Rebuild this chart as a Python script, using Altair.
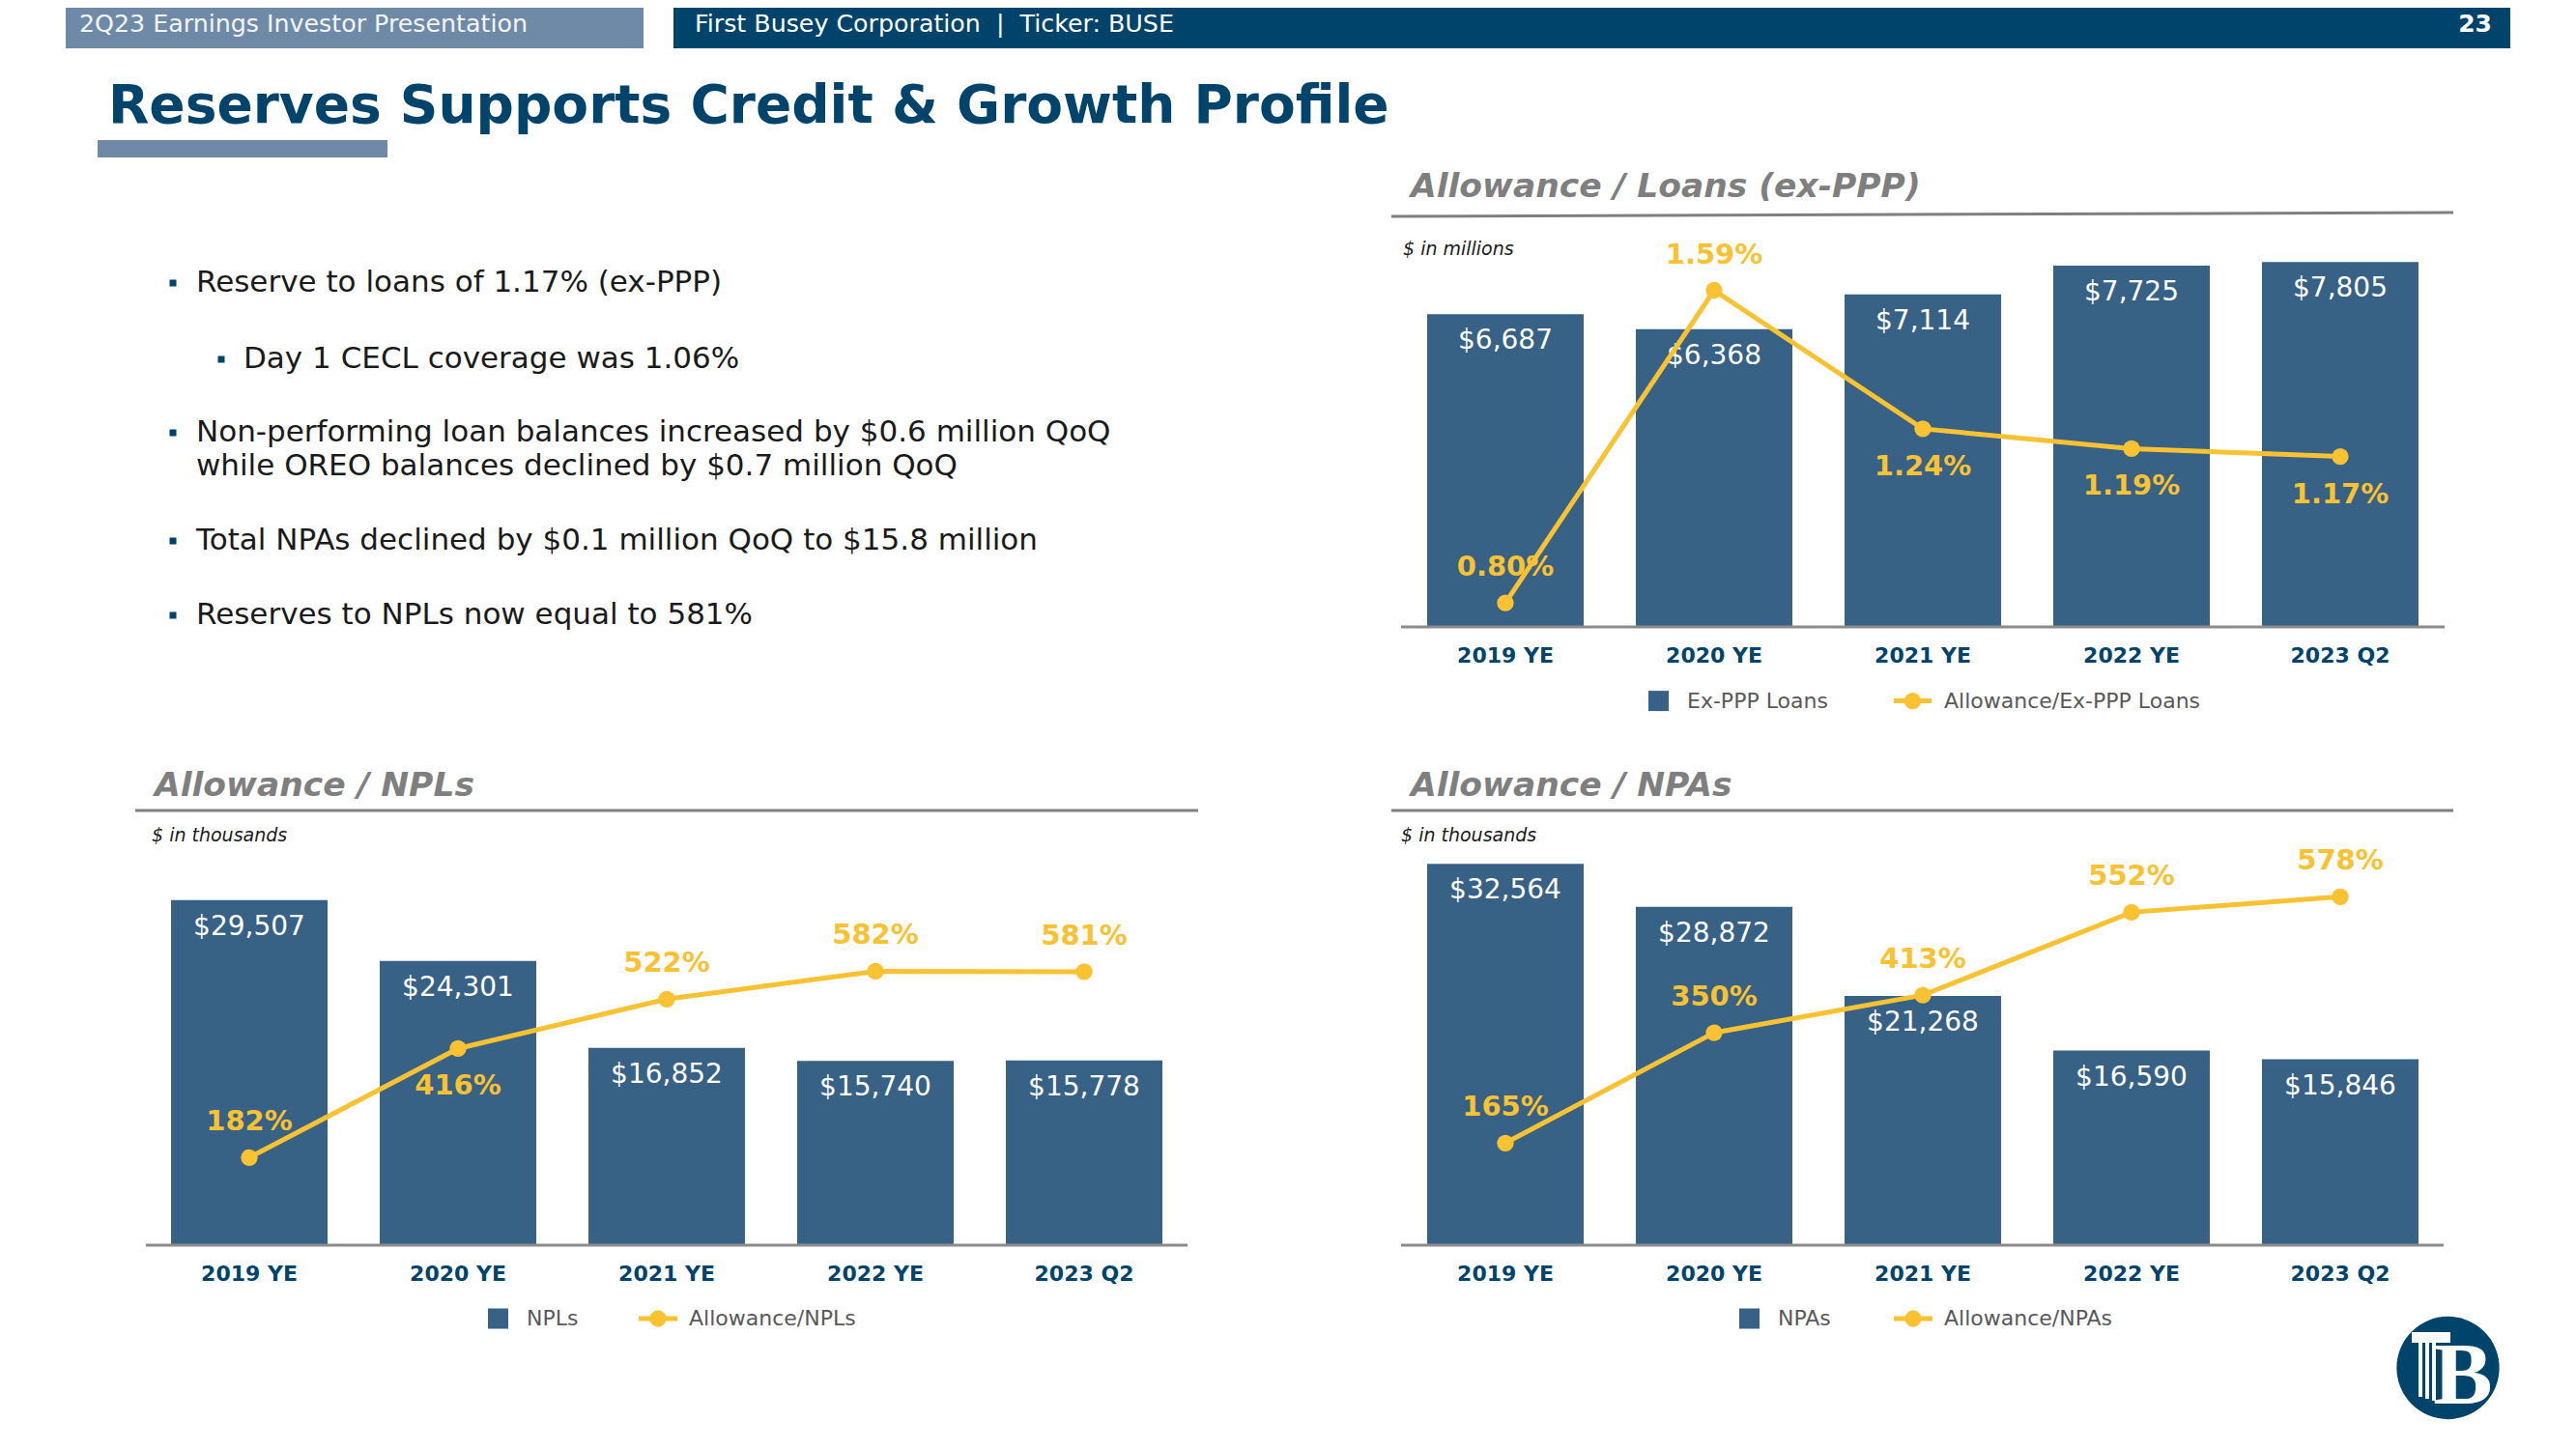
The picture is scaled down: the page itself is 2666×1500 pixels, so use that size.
import altair as alt
import pandas as pd

# ---------------- data ----------------
categories = ["2019 YE", "2020 YE", "2021 YE", "2022 YE", "2023 Q2"]
exppp_loans = [6687, 6368, 7114, 7725, 7805]          # $ in millions
allow_loans_pct = [0.80, 1.59, 1.24, 1.19, 1.17]      # %
npls = [29507, 24301, 16852, 15740, 15778]            # $ in thousands
allow_npls_pct = [182, 416, 522, 582, 581]            # %
npas = [32564, 28872, 21268, 16590, 15846]            # $ in thousands
allow_npas_pct = [165, 350, 413, 552, 578]            # %

NBSP = "\u00a0"
header_left = "2Q23 Earnings Investor Presentation"
header_right = "First Busey Corporation" + NBSP * 2 + "|" + NBSP * 2 + "Ticker: BUSE"
page_number = "23"
slide_title = "Reserves Supports Credit & Growth Profile"
bullet_lines = [
    "Reserve to loans of 1.17% (ex-PPP)",
    "Day 1 CECL coverage was 1.06%",
    "Non-performing loan balances increased by $0.6 million QoQ",
    "while OREO balances declined by $0.7 million QoQ",
    "Total NPAs declined by $0.1 million QoQ to $15.8 million",
    "Reserves to NPLs now equal to 581%",
]

# ---------------- style / layout ----------------
FONT = "DejaVu Sans"
NAVY = "#00436b"
SLATE = "#6f8aa7"
BAR = "#376185"
GOLD = "#f8c232"
GRAY_T = "#7f7f7f"
AXIS = "#8c8c8c"
TEXT = "#1a1a1a"
LEG = "#595959"
OFF = 8  # page margin


def P(v):
    return v - OFF


one = pd.DataFrame({"k": [0]})


def text_at(txt, x, y, size, color, weight="normal", style="normal",
            align="left", baseline="middle", font=FONT):
    return alt.Chart(one).mark_text(
        text=txt, fontSize=size, color=color, fontWeight=weight,
        fontStyle=style, align=align, baseline=baseline, font=font
    ).encode(x=alt.value(P(x)), y=alt.value(P(y)))


def rect_at(x0, x1, y0, y1, color):
    return alt.Chart(one).mark_rect(color=color).encode(
        x=alt.value(P(x0)), x2=alt.value(P(x1)),
        y=alt.value(P(y0)), y2=alt.value(P(y1)))


def rule_at(x0, y0, x1, y1, color, width):
    return alt.Chart(one).mark_rule(color=color, strokeWidth=width).encode(
        x=alt.value(P(x0)), y=alt.value(P(y0)),
        x2=alt.value(P(x1)), y2=alt.value(P(y1)))


def dot_at(x, y, size, color):
    return alt.Chart(one).mark_circle(color=color, size=size, opacity=1).encode(
        x=alt.value(P(x)), y=alt.value(P(y)))


def panel(values, pct, pct_fmt, below, xr, base, bar_k, bar_max,
          anchor, label_y):
    df = pd.DataFrame({"cat": categories, "val": values, "pct": pct})
    df["val_lbl"] = ["$" + f"{v:,}" for v in values]
    df["pct_lbl"] = [pct_fmt(p) for p in pct]
    band = alt.Scale(domain=categories, range=[P(xr[0]), P(xr[1])],
                     paddingInner=0.25, paddingOuter=0.125)
    pnt = alt.Scale(type="point", domain=categories,
                    range=[P(xr[0]), P(xr[1])], padding=0.5)
    ybar = alt.Scale(domain=[0, bar_max],
                     range=[P(base), P(base - bar_max * bar_k)], nice=False)
    (v1, y1), (v2, y2) = anchor
    yline = alt.Scale(domain=[v1, v2], range=[P(y1), P(y2)],
                      nice=False, zero=False)
    c = alt.Chart(df)
    xb = alt.X("cat:N", scale=band, axis=None)
    xp = alt.X("cat:N", scale=pnt, axis=None)
    yb = alt.Y("val:Q", scale=ybar, axis=None)
    yl = alt.Y("pct:Q", scale=yline, axis=None)
    bars = c.mark_bar(color=BAR).encode(x=xb, y=yb, y2=alt.datum(0))
    bar_lbl = c.mark_text(color="white", fontSize=28, font=FONT,
                          baseline="middle", dy=28).encode(
        x=xp, y=alt.Y("val:Q", scale=ybar, axis=None), text="val_lbl:N")
    xlbl = c.mark_text(color=NAVY, fontSize=22, fontWeight="bold", font=FONT,
                       baseline="middle").encode(
        x=xp, y=alt.value(P(label_y)), text="cat:N")
    line = c.mark_line(color=GOLD, strokeWidth=5).encode(x=xp, y=yl)
    pts = c.mark_circle(color=GOLD, size=300, opacity=1).encode(x=xp, y=yl)
    above_cats = [k for k in categories if k not in below]
    layers = [bars, bar_lbl, xlbl, line, pts]
    if above_cats:
        layers.append(c.transform_filter(
            alt.FieldOneOfPredicate(field="cat", oneOf=above_cats)
        ).mark_text(color=GOLD, fontSize=29, fontWeight="bold", font=FONT,
                    baseline="middle", dy=-37).encode(
            x=xp, y=yl, text="pct_lbl:N"))
    if below:
        layers.append(c.transform_filter(
            alt.FieldOneOfPredicate(field="cat", oneOf=list(below))
        ).mark_text(color=GOLD, fontSize=29, fontWeight="bold", font=FONT,
                    baseline="middle", dy=39).encode(
            x=xp, y=yl, text="pct_lbl:N"))
    return layers


def legend(y, sq_x, txt_x, label1, ln_x0, ln_x1, label2, txt2_x):
    return [
        rect_at(sq_x, sq_x + 21, y - 10.5, y + 10.5, BAR),
        text_at(label1, txt_x, y, 22, LEG),
        rule_at(ln_x0, y, ln_x1, y, GOLD, 5),
        dot_at((ln_x0 + ln_x1) / 2, y, 300, GOLD),
        text_at(label2, txt2_x, y, 22, LEG),
    ]


layers = []

# header
layers += [
    rect_at(68, 666, 0, 50, SLATE),
    rect_at(697, 2598, 0, 50, NAVY),
    text_at(header_left, 82, 25, 25.3, "#f2f5f8"),
    text_at(header_right, 719, 25, 25.3, "white"),
    text_at(page_number, 2579, 25, 25, "white", weight="bold", align="right"),
    text_at(slide_title, 112, 127, 55, NAVY, weight="bold",
            baseline="alphabetic"),
    rect_at(101, 401, 145, 163, "#7089a8"),
]

# bullets
bullet_pos = [(179, 203, 293), (229, 252, 372), (179, 203, 448),
              (None, 203, 483), (179, 203, 560), (179, 203, 637)]
for txt, (bx, tx, ty) in zip(bullet_lines, bullet_pos):
    if bx is not None:
        layers.append(rect_at(bx - 3.5, bx + 3.5, ty - 3.5, ty + 3.5, NAVY))
    layers.append(text_at(txt, tx, ty, 31, TEXT))

# --- top-right: Allowance / Loans (ex-PPP)
layers += [
    text_at("Allowance / Loans (ex-PPP)", 1460, 194, 34.5, GRAY_T,
            weight="bold", style="italic"),
    rule_at(1440, 224, 2539, 220, GRAY_T, 3),
    text_at("$ in millions", 1452, 258, 19, TEXT, style="italic"),
]
layers += panel(exppp_loans, allow_loans_pct, lambda p: f"{p:.2f}%",
                ["2021 YE", "2022 YE", "2023 Q2"], (1450, 2530), 648.7,
                0.04836, 10000, ((0.80, 624.2), (1.59, 300.5)), 679)
layers.append(rule_at(1450, 649, 2530, 649, AXIS, 3))
layers += legend(725.6, 1706, 1746, "Ex-PPP Loans", 1960, 1999,
                 "Allowance/Ex-PPP Loans", 2012)

# --- bottom-left: Allowance / NPLs
layers += [
    text_at("Allowance / NPLs", 160, 814, 34.5, GRAY_T, weight="bold",
            style="italic"),
    rule_at(140, 839, 1240, 839, GRAY_T, 3),
    text_at("$ in thousands", 157, 865, 19, TEXT, style="italic"),
]
layers += panel(npls, allow_npls_pct, lambda p: f"{p:.0f}%",
                ["2020 YE"], (150, 1230), 1288.5, 0.01209, 40000,
                ((182, 1198.3), (582, 1005.4)), 1318.5)
layers.append(rule_at(151, 1289, 1229, 1289, AXIS, 3))
layers += legend(1365, 505, 545, "NPLs", 661, 701, "Allowance/NPLs", 713)

# --- bottom-right: Allowance / NPAs
layers += [
    text_at("Allowance / NPAs", 1460, 814, 34.5, GRAY_T, weight="bold",
            style="italic"),
    rule_at(1440, 839, 2539, 839, GRAY_T, 3),
    text_at("$ in thousands", 1450, 865, 19, TEXT, style="italic"),
]
layers += panel(npas, allow_npas_pct, lambda p: f"{p:.0f}%",
                [], (1450, 2530), 1288.5, 0.01211, 40000,
                ((165, 1183.3), (578, 928.3)), 1318.5)
layers.append(rule_at(1450, 1289, 2529, 1289, AXIS, 3))
layers += legend(1365, 1800, 1840, "NPAs", 1960, 2000, "Allowance/NPAs", 2012)

# logo: circle with pillar + B
layers += [
    dot_at(2533.5, 1416, 11300, NAVY),
    text_at("B", 2549, 1453, 92, "white", weight="bold",
            align="center", baseline="alphabetic", font="Liberation Serif"),
    rect_at(2496, 2536, 1379, 1390, "white"),
    rect_at(2503, 2507, 1390, 1446, "white"),
    rect_at(2510, 2514, 1390, 1448, "white"),
    rect_at(2517, 2521, 1390, 1450, "white"),
]

chart = alt.layer(*layers).resolve_scale(
    x="independent", y="independent"
).properties(
    width=2650, height=1484, padding=0,
    autosize=alt.AutoSizeParams(type="none"),
    background="white",
).configure_view(stroke=None)

chart.save("out.html", embed_options={"renderer": "svg", "actions": False})
